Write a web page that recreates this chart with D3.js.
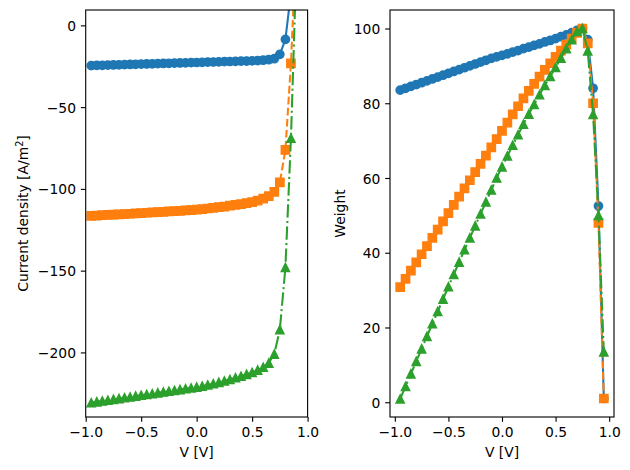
<!DOCTYPE html>
<html><head><meta charset="utf-8">
<script src="https://cdn.jsdelivr.net/npm/d3@7"></script>
<style>
body{margin:0;background:#fff}
svg{display:block}
text{font-family:"DejaVu Sans",sans-serif;fill:#000}
</style>
</head><body>
<svg id="chart" width="630" height="470"></svg>
<script>
// ---- data ----
const V = [-0.95,-0.9,-0.85,-0.8,-0.75,-0.7,-0.65,-0.6,-0.55,-0.5,-0.45,-0.4,-0.35,-0.3,-0.25,-0.2,-0.15,-0.1,-0.05,0,
           0.05,0.1,0.15,0.2,0.25,0.3,0.35,0.4,0.45,0.5,0.55,0.6,0.65,0.7,0.75,0.8,0.85,0.9,0.95];

const jBlue = [-24.6,-24.5,-24.4,-24.3,-24.2,-24.1,-24.0,-23.9,-23.8,-23.7,-23.6,-23.5,-23.4,-23.3,-23.2,-23.1,-23.0,-22.9,-22.8,-22.7,
               -22.6,-22.5,-22.4,-22.3,-22.2,-22.1,-22.0,-21.9,-21.8,-21.7,-21.5,-21.3,-21.0,-20.4,-17.7,-8.6,20,70,140];
const jOrange = [-116.5,-116.3,-116.1,-115.9,-115.7,-115.6,-115.4,-115.2,-115.0,-114.8,-114.6,-114.4,-114.2,-114.0,-113.8,-113.6,-113.4,-113.2,-113.0,
                 -112.7,-112.4,-112.0,-111.6,-111.2,-110.8,-110.3,-109.8,-109.3,-108.7,-108.1,-107.2,-106.0,-104.4,-101.8,-96,-76.2,-23.2,55,150];
const jGreen = [-230.7,-230.2,-229.7,-229.2,-228.7,-228.2,-227.7,-227.2,-226.7,-226.2,-225.7,-225.2,-224.7,-224.2,-223.7,-223.2,-222.7,-222.2,-221.7,
                -221.2,-220.6,-219.9,-219.1,-218.3,-217.4,-216.5,-215.5,-214.5,-213.4,-212.2,-210.8,-209.0,-206.5,-201,-186,-148,-69,40,180];

const wBlue = [83.5,84.0,84.5,85.0,85.5,86.0,86.5,87.0,87.5,88.0,88.5,89.0,89.5,90.0,90.5,91.0,91.5,92.0,92.4,92.8,
               93.2,93.7,94.1,94.6,95.0,95.5,95.9,96.4,96.8,97.3,97.8,98.3,98.9,99.5,100,97,84,52.5,1];
const wOrange = [30.8,33.0,35.2,37.4,39.6,41.8,44.0,46.2,48.4,50.6,52.8,55.0,57.2,59.4,61.6,63.8,66.0,68.2,70.4,72.6,74.8,77.0,79.2,
                 81.3,83.3,85.2,87.1,88.9,90.7,92.4,94.1,95.7,97.3,98.8,100,96,80,48,1];
const wGreen = [0.9,4.25,7.6,10.95,14.3,17.65,21.0,24.3,27.6,30.9,34.2,37.5,40.8,44.0,47.2,50.4,53.6,56.8,60.0,
                63.0,65.9,68.8,71.6,74.4,77.1,79.7,82.3,84.8,87.2,89.6,92.1,94.6,97.0,99.2,100,94,77,50,13.5];

const xTicks = [-1, -0.5, 0, 0.5, 1];
const xTickLabels = ["\u22121.0", "\u22120.5", "0.0", "0.5", "1.0"];
const leftYTicks = [0, -50, -100, -150, -200];
const leftYTickLabels = ["0", "\u221250", "\u2212100", "\u2212150", "\u2212200"];
const rightYTicks = [0, 20, 40, 60, 80, 100];
const rightYTickLabels = ["0", "20", "40", "60", "80", "100"];

const colors = ["#1f77b4", "#ff7f0e", "#2ca02c"];

// ---- drawing ----
const svg = d3.select("#chart");
const FS = 13.89;
const TICK = 4.86, PAD = 4.86;
const LW = 2.08, MS = 8.33, MEW = 1.39;

function markerPath(type) {
  const h = MS / 2;
  if (type === "o") return d3.symbol().type(d3.symbolCircle).size(Math.PI * h * h)();
  if (type === "s") return `M${-h},${-h}H${h}V${h}H${-h}Z`;
  return `M0,${-h}L${h},${h}L${-h},${h}Z`;
}

function panel(cfg) {
  const xs = d3.scaleLinear().domain(cfg.xDomain).range([cfg.x0, cfg.x1]);
  const ys = d3.scaleLinear().domain(cfg.yDomain).range([cfg.y1, cfg.y0]);
  const g = svg.append("g");

  g.append("clipPath").attr("id", cfg.id)
    .append("rect").attr("x", cfg.x0).attr("y", cfg.y0)
    .attr("width", cfg.x1 - cfg.x0).attr("height", cfg.y1 - cfg.y0);

  const data = g.append("g").attr("clip-path", `url(#${cfg.id})`);
  cfg.series.forEach((s, k) => {
    const pts = V.map((v, i) => [v, s.values[i]]);
    data.append("path")
      .attr("d", d3.line().x(d => xs(d[0])).y(d => ys(d[1]))(pts))
      .attr("fill", "none").attr("stroke", colors[k]).attr("stroke-width", LW)
      .attr("stroke-linejoin", "round")
      .attr("stroke-linecap", s.dash ? "butt" : "square")
      .attr("stroke-dasharray", s.dash || null);
    const mp = markerPath(s.marker);
    data.append("g").selectAll("path").data(pts).join("path")
      .attr("d", mp)
      .attr("transform", d => `translate(${xs(d[0])},${ys(d[1])})`)
      .attr("fill", colors[k]).attr("stroke", colors[k]).attr("stroke-width", MEW);
  });

  // axes
  const xAxis = d3.axisBottom(xs).tickValues(xTicks)
    .tickFormat((d, i) => xTickLabels[i]).tickSize(TICK).tickPadding(PAD);
  const gx = g.append("g").attr("transform", `translate(0,${cfg.y1})`).call(xAxis);
  const yAxis = d3.axisLeft(ys).tickValues(cfg.yTicks)
    .tickFormat((d, i) => cfg.yTickLabels[i]).tickSize(TICK).tickPadding(PAD);
  const gy = g.append("g").attr("transform", `translate(${cfg.x0},0)`).call(yAxis);
  [gx, gy].forEach(a => {
    a.select(".domain").remove();
    a.selectAll(".tick line").attr("stroke", "#000").attr("stroke-width", 1.11);
    a.selectAll(".tick text").attr("font-size", FS).attr("font-family", "DejaVu Sans").attr("fill", "#000");
  });
  gx.selectAll(".tick text").attr("dy", null).attr("y", null)
    .attr("transform", `translate(0,${TICK + PAD + 10.4})`);
  gy.selectAll(".tick text").attr("dy", "0.36em");

  // spines
  g.append("rect").attr("x", cfg.x0).attr("y", cfg.y0)
    .attr("width", cfg.x1 - cfg.x0).attr("height", cfg.y1 - cfg.y0)
    .attr("fill", "none").attr("stroke", "#000").attr("stroke-width", 1.11);

  // labels
  g.append("text").attr("x", (cfg.x0 + cfg.x1) / 2).attr("y", 457)
    .attr("text-anchor", "middle").attr("font-size", FS).text("V [V]");
  const yl = g.append("text")
    .attr("transform", `translate(${cfg.ylabelX},${(cfg.y0 + cfg.y1) / 2}) rotate(-90)`)
    .attr("text-anchor", "middle").attr("font-size", FS);
  cfg.ylabel(yl);
}

panel({
  id: "clipL", x0: 85.7, x1: 307.6, y0: 10, y1: 417,
  xDomain: [-1, 1], yDomain: [-239.5, 9.4],
  yTicks: leftYTicks, yTickLabels: leftYTickLabels,
  ylabelX: 28,
  ylabel: t => {
    t.append("tspan").text("Current density [A/m");
    t.append("tspan").attr("font-size", 9.7).attr("dy", -5.5).text("2");
    t.append("tspan").attr("dy", 5.5).text("]");
  },
  series: [
    { values: jBlue, marker: "o" },
    { values: jOrange, marker: "s", dash: "7.7,3.33" },
    { values: jGreen, marker: "^", dash: "13.33,3.33,2.08,3.33" }
  ]
});

panel({
  id: "clipR", x0: 390, x1: 614, y0: 10, y1: 417,
  xDomain: [-1.045, 1.045], yDomain: [-3.95, 104.95],
  yTicks: rightYTicks, yTickLabels: rightYTickLabels,
  ylabelX: 345,
  ylabel: t => t.text("Weight"),
  series: [
    { values: wBlue, marker: "o" },
    { values: wOrange, marker: "s", dash: "7.7,3.33" },
    { values: wGreen, marker: "^", dash: "13.33,3.33,2.08,3.33" }
  ]
});
</script>
</body></html>
